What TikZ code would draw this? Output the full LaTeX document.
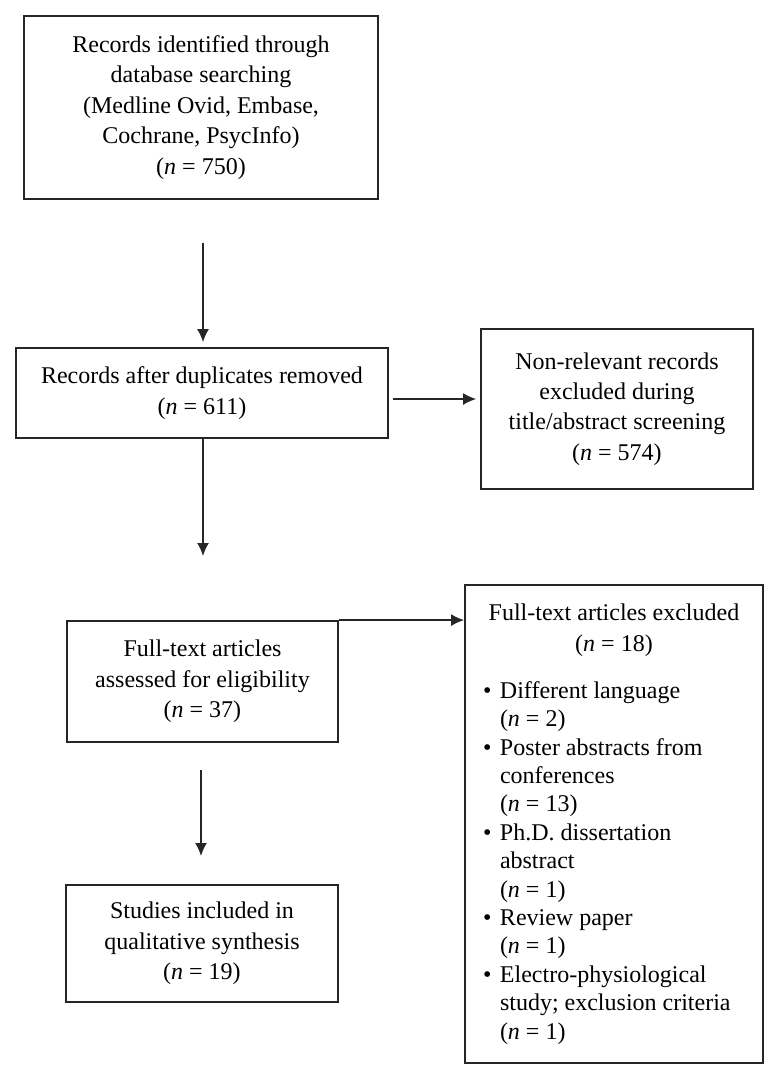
\documentclass[tikz,border=0pt]{standalone}
\usepackage{fontspec}
\setmainfont{Liberation Serif}
\usetikzlibrary{arrows.meta}
\newcommand\bitem[1]{\par\noindent\hangindent=8.5pt\hangafter=1\makebox[8.5pt][l]{\textbullet}#1}
\begin{document}
\begin{tikzpicture}[x=0.5pt,y=-0.5pt,
  box/.style={draw=black!85, line width=0.9pt, align=center, inner sep=0pt,
    font=\fontsize{12}{15.2}\selectfont},
  arr/.style={draw=black!85, line width=0.8pt, -{Latex[length=6.5pt,width=6pt]}}]
\useasboundingbox[fill=white] (0,0) rectangle (775,1077);
\node[box, minimum width=177pt, minimum height=91.5pt] (b1) at (201,107.5)
  {Records identified through\\database searching\\(Medline Ovid, Embase,\\Cochrane, PsycInfo)\\(\textit{n} = 750)};
\node[box, minimum width=186pt, minimum height=45pt] (b2) at (202,393)
  {Records after duplicates removed\\(\textit{n} = 611)};
\node[box, minimum width=136pt, minimum height=80pt] (b3) at (617,409)
  {Non-relevant records\\excluded during\\title/abstract screening\\(\textit{n} = 574)};
\node[box, minimum width=135.5pt, minimum height=60.5pt] (b4) at (202.5,681.5)
  {Full-text articles\\assessed for eligibility\\(\textit{n} = 37)};
\node[box, minimum width=149pt, minimum height=239pt, inner xsep=9pt] (b5) at (614,824)
  {\parbox{131pt}{%
   {\centering\fontsize{12}{15.5}\selectfont Full-text articles excluded\\(\textit{n} = 18)\par}
   \vspace{9.3pt}\raggedright\fontsize{12}{14.2}\selectfont
   \bitem{Different language\newline(\textit{n} = 2)}
   \bitem{Poster abstracts from\newline conferences\newline(\textit{n} = 13)}
   \bitem{Ph.D. dissertation\newline abstract\newline(\textit{n} = 1)}
   \bitem{Review paper\newline(\textit{n} = 1)}
   \bitem{Electro-physiological\newline study; exclusion criteria\newline(\textit{n} = 1)}\par}};
\node[box, minimum width=136pt, minimum height=58.5pt] (b6) at (202,943.5)
  {Studies included in\\qualitative synthesis\\(\textit{n} = 19)};
\coordinate (a1s) at (203,243);
\coordinate (a3e) at (203,556);
\coordinate (a5s) at (201,770);
\coordinate (a5e) at (201,856);
\draw[arr, shorten >=2.5pt] (a1s) -- (a1s |- b2.north);
\draw[arr, shorten <=2pt, shorten >=2pt] (b2.east |- 0,399) -- (b3.west |- 0,399);
\draw[arr] (a3e |- b2.south) -- (a3e);
\draw[arr] (b4.north east) -- (b5.west |- b4.north east);
\draw[arr] (a5s) -- (a5e);
\end{tikzpicture}
\end{document}
